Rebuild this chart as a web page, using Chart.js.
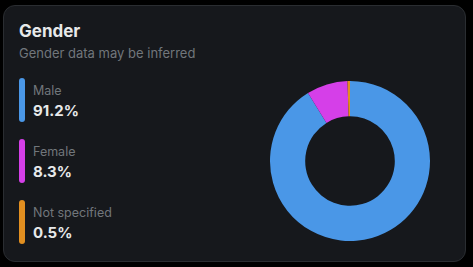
<!DOCTYPE html>
<html>
<head>
<meta charset="utf-8">
<script src="https://cdn.jsdelivr.net/npm/chart.js@4"></script>
<style>
  html, body { margin: 0; padding: 0; background: #000; }
  body { width: 473px; height: 267px; position: relative; overflow: hidden; font-family: Inter, "Noto Sans", sans-serif; }
  .card { position: absolute; left: 3px; top: 5px; width: 461px; height: 255px; background: #16181c; border: 1px solid #2a2d31; border-radius: 12px; }
  .title { position: absolute; left: 19px; top: 21px; color: #e7e9ea; font-size: 17px; font-weight: 700; }
  .sub { position: absolute; left: 19px; top: 45px; color: #71767b; font-size: 13px; }
  .item { position: absolute; left: 19px; height: 44px; }
  .bar { position: absolute; left: 0; top: 0; width: 6px; height: 44px; border-radius: 3px; }
  .lbl { position: absolute; left: 14px; top: 5px; color: #71767b; font-size: 12.5px; white-space: nowrap; }
  .val { position: absolute; left: 14px; top: 23px; color: #e7e9ea; font-size: 15px; font-weight: 700; white-space: nowrap; }
  #wrap { position: absolute; left: 270px; top: 81px; width: 160px; height: 160px; }
</style>
</head>
<body>
<div class="card"></div>
<div class="title">Gender</div>
<div class="sub">Gender data may be inferred</div>
<div id="legend"></div>
<div id="wrap"><canvas id="donut"></canvas></div>
<script>
// data
var categories = ['Male', 'Female', 'Not specified'];
var shares = [91.2, 8.3, 0.5];
var colors = ['#4a97e7', '#d53fe8', '#e28f20'];

// legend on the left
var legend = document.getElementById('legend');
categories.forEach(function (name, i) {
  var item = document.createElement('div');
  item.className = 'item';
  item.style.top = (78 + i * 61) + 'px';
  item.innerHTML = '<div class="bar" style="background:' + colors[i] + '"></div>' +
    '<div class="lbl">' + name + '</div>' +
    '<div class="val">' + shares[i].toFixed(1) + '%</div>';
  legend.appendChild(item);
});

new Chart(document.getElementById('donut'), {
  type: 'doughnut',
  data: {
    labels: categories,
    datasets: [{
      data: shares,
      backgroundColor: colors,
      borderWidth: 0
    }]
  },
  options: {
    responsive: true,
    maintainAspectRatio: false,
    animation: false,
    cutout: '56%',
    layout: { padding: 0 },
    plugins: {
      legend: { display: false },
      tooltip: { enabled: false }
    }
  }
});
</script>
</body>
</html>
